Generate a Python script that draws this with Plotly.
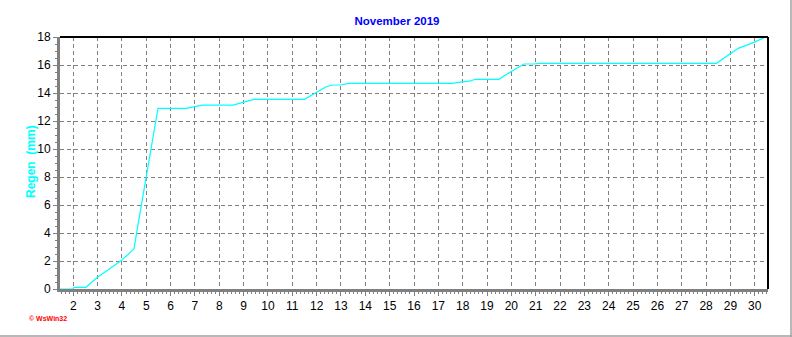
import plotly.graph_objects as go

# Cumulative rainfall for November 2019 (day of month, mm)
days = [1.455, 2.0, 2.02, 2.52, 2.97, 3.50, 4.0, 4.47, 4.5, 4.6, 4.8, 5.0, 5.21, 5.35, 5.48,
        6.65, 6.99, 7.30, 8.56, 8.9, 9.17, 9.42, 11.5, 11.84, 12.18, 12.39, 12.66, 13.0,
        13.31, 17.57, 17.85, 18.33, 18.5, 19.49, 19.76, 20.03, 20.38, 20.51, 20.92, 21.13,
        28.43, 28.91, 29.32, 29.94, 30.42, 30.545]
rain_mm = [0.0, 0.0, 0.12, 0.12, 0.8, 1.48, 2.07, 2.83, 2.9, 3.98, 6.0, 8.0, 10.2, 11.8, 12.9,
           12.9, 13.02, 13.14, 13.14, 13.3, 13.43, 13.55, 13.55, 13.9, 14.26, 14.45, 14.57, 14.57,
           14.69, 14.69, 14.76, 14.86, 14.98, 14.98, 15.29, 15.57, 15.95, 16.07, 16.07, 16.12,
           16.12, 16.71, 17.19, 17.6, 17.98, 18.0]

x_ticks = list(range(2, 31))
y_ticks = list(range(0, 19, 2))

W, H = 792, 337
L, R, T, B = 60, 24, 37, 48

fig = go.Figure()
fig.add_trace(go.Scatter(x=days, y=rain_mm, mode="lines",
                         line=dict(color="#00FFFF", width=1.2), hoverinfo="skip"))

tick_font = dict(family="Liberation Sans, Arial, sans-serif", size=12, color="#000000")

fig.update_layout(
    width=W, height=H,
    margin=dict(l=L, r=R, t=T, b=B, pad=0),
    paper_bgcolor="white", plot_bgcolor="white",
    showlegend=False,
    title=dict(text="<b>November 2019</b>", x=397 / W, xref="container", y=1 - 21 / H,
               yref="container", xanchor="center", yanchor="middle",
               font=dict(family="Liberation Sans, Arial, sans-serif", size=11.5, color="#0000FF")),
    xaxis=dict(range=[1.455, 30.545], tickmode="array", tickvals=x_ticks,
               ticktext=[str(v) for v in x_ticks], tickfont=tick_font,
               showgrid=True, gridcolor="#808080", gridwidth=1, griddash="4px,3px",
               showline=True, linecolor="#808080", linewidth=3,
               ticks="outside", ticklen=4, tickcolor="#808080", tickwidth=1,
               minor=dict(dtick=1 / 6, tick0=2, ticks="outside", ticklen=2,
                          tickcolor="#808080", showgrid=False),
               zeroline=False, fixedrange=True),
    yaxis=dict(range=[0, 18], tickmode="array", tickvals=y_ticks,
               ticktext=[str(v) for v in y_ticks], tickfont=tick_font,
               showgrid=True, gridcolor="#808080", gridwidth=1, griddash="4px,3px",
               showline=True, linecolor="#808080", linewidth=3,
               ticks="outside", ticklen=4, tickcolor="#808080", tickwidth=1,
               minor=dict(dtick=0.5, ticks="outside", ticklen=2,
                          tickcolor="#808080", showgrid=False),
               zeroline=False, fixedrange=True),
)

# Black frame on top and right of the plot area
fig.add_shape(type="line", xref="paper", yref="paper", x0=0, x1=1, y0=1, y1=1,
              line=dict(color="#000000", width=2))
fig.add_shape(type="line", xref="paper", yref="paper", x0=1, x1=1, y0=0, y1=1,
              line=dict(color="#000000", width=2))

# Grey frame along the right and bottom edge of the image
pw, ph = W - L - R, H - T - B
fig.add_shape(type="line", xref="paper", yref="paper",
              x0=(W - 1 - L) / pw, x1=(W - 1 - L) / pw, y0=-(H - T - ph) / ph, y1=1 + T / ph,
              line=dict(color="#A0A0A0", width=1.5))
fig.add_shape(type="line", xref="paper", yref="paper",
              x0=-L / pw, x1=(W - L) / pw, y0=-(H - 1 - T - ph) / ph, y1=-(H - 1 - T - ph) / ph,
              line=dict(color="#A0A0A0", width=1.5))

# Axis title
fig.add_annotation(text="<b>Regen\u00a0\u00a0(mm)</b>", xref="paper", yref="paper",
                   x=(31 - L) / pw, y=(289 - 162) / ph, textangle=-90, showarrow=False,
                   xanchor="center", yanchor="middle",
                   font=dict(family="Liberation Sans, Arial, sans-serif", size=12, color="#00FFFF"))

# Program credit
fig.add_annotation(text="<b>\u00a9 WsWin32</b>", xref="paper", yref="paper",
                   x=(27 - L) / pw, y=-(318 - T - ph) / ph, showarrow=False,
                   xanchor="left", yanchor="middle",
                   font=dict(family="Liberation Sans, Arial, sans-serif", size=7, color="#FF0000"))

fig.write_html("out.html")
